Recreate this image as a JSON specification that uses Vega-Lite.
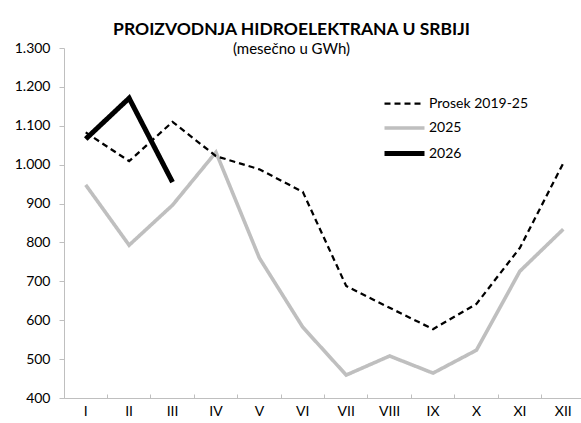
{
  "$schema": "https://vega.github.io/schema/vega-lite/v6.json",
  "width": 521,
  "height": 350,
  "autosize": {"type": "none"},
  "padding": {"left": 64, "top": 48, "right": 0, "bottom": 25},
  "background": "white",
  "title": {
    "text": "PROIZVODNJA HIDROELEKTRANA U SRBIJI",
    "subtitle": "(mesečno u GWh)",
    "font": "Lato",
    "fontSize": 17.5,
    "fontWeight": "bold",
    "color": "#000000",
    "subtitleFont": "Lato",
    "subtitleFontSize": 15,
    "subtitleColor": "#000000",
    "subtitlePadding": 4,
    "anchor": "middle",
    "dx": -33,
    "offset": -16
  },
  "data": {
    "values": [
      {"mesec": "I", "serija": "Prosek 2019-25", "vrednost": 1083},
      {"mesec": "II", "serija": "Prosek 2019-25", "vrednost": 1009},
      {"mesec": "III", "serija": "Prosek 2019-25", "vrednost": 1110},
      {"mesec": "IV", "serija": "Prosek 2019-25", "vrednost": 1022},
      {"mesec": "V", "serija": "Prosek 2019-25", "vrednost": 988},
      {"mesec": "VI", "serija": "Prosek 2019-25", "vrednost": 930},
      {"mesec": "VII", "serija": "Prosek 2019-25", "vrednost": 688},
      {"mesec": "VIII", "serija": "Prosek 2019-25", "vrednost": 632},
      {"mesec": "IX", "serija": "Prosek 2019-25", "vrednost": 577},
      {"mesec": "X", "serija": "Prosek 2019-25", "vrednost": 642},
      {"mesec": "XI", "serija": "Prosek 2019-25", "vrednost": 786},
      {"mesec": "XII", "serija": "Prosek 2019-25", "vrednost": 1004},
      {"mesec": "I", "serija": "2025", "vrednost": 948},
      {"mesec": "II", "serija": "2025", "vrednost": 793},
      {"mesec": "III", "serija": "2025", "vrednost": 896},
      {"mesec": "IV", "serija": "2025", "vrednost": 1032},
      {"mesec": "V", "serija": "2025", "vrednost": 760},
      {"mesec": "VI", "serija": "2025", "vrednost": 582},
      {"mesec": "VII", "serija": "2025", "vrednost": 459},
      {"mesec": "VIII", "serija": "2025", "vrednost": 508},
      {"mesec": "IX", "serija": "2025", "vrednost": 464},
      {"mesec": "X", "serija": "2025", "vrednost": 523},
      {"mesec": "XI", "serija": "2025", "vrednost": 726},
      {"mesec": "XII", "serija": "2025", "vrednost": 834},
      {"mesec": "I", "serija": "2026", "vrednost": 1066},
      {"mesec": "II", "serija": "2026", "vrednost": 1171},
      {"mesec": "III", "serija": "2026", "vrednost": 955}
    ]
  },
  "encoding": {
    "x": {
      "field": "mesec",
      "type": "ordinal",
      "sort": ["I", "II", "III", "IV", "V", "VI", "VII", "VIII", "IX", "X", "XI", "XII"],
      "bandPosition": 0.5,
      "scale": {"type": "band", "paddingInner": 0, "paddingOuter": 0},
      "axis": {
        "title": null,
        "labelAngle": 0,
        "labelFont": "Lato",
        "labelFontSize": 14,
        "labelColor": "#000000",
        "labelPadding": 10,
        "domainColor": "#bfbfbf",
        "tickColor": "#bfbfbf",
        "tickSize": -4,
        "bandPosition": 0,
        "grid": false
      }
    },
    "y": {
      "field": "vrednost",
      "type": "quantitative",
      "scale": {"domain": [400, 1300], "nice": false, "zero": false},
      "axis": {
        "title": null,
        "values": [400, 500, 600, 700, 800, 900, 1000, 1100, 1200, 1300],
        "labelExpr": "replace(format(datum.value, ','), ',', '.')",
        "labelFont": "Lato",
        "labelFontSize": 14,
        "labelColor": "#000000",
        "labelPadding": 9,
        "domainColor": "#bfbfbf",
        "tickColor": "#bfbfbf",
        "tickSize": 5,
        "grid": false
      }
    },
    "color": {
      "field": "serija",
      "type": "nominal",
      "scale": {"domain": ["Prosek 2019-25", "2025", "2026"], "range": ["#000000", "#bfbfbf", "#000000"]},
      "legend": {
        "title": null,
        "orient": "none",
        "legendX": 328,
        "legendY": 44,
        "symbolType": "M-2,0H2",
        "symbolSize": 400,
        "labelFont": "Lato",
        "labelFontSize": 14,
        "labelColor": "#000000",
        "labelOffset": 12,
        "rowPadding": 5,
        "padding": 0
      }
    },
    "strokeDash": {
      "field": "serija",
      "type": "nominal",
      "scale": {"domain": ["Prosek 2019-25", "2025", "2026"], "range": [[6, 4], [1, 0], [1, 0]]}
    },
    "strokeWidth": {
      "field": "serija",
      "type": "nominal",
      "scale": {"domain": ["Prosek 2019-25", "2025", "2026"], "range": [2.25, 5, 4.5]}
    }
  },
  "layer": [
    {"transform": [{"filter": "datum.serija === '2025'"}], "mark": {"type": "line"}},
    {"transform": [{"filter": "datum.serija === 'Prosek 2019-25'"}], "mark": {"type": "line"}},
    {"transform": [{"filter": "datum.serija === '2026'"}], "mark": {"type": "line"}}
  ],
  "config": {"view": {"stroke": null}}
}
